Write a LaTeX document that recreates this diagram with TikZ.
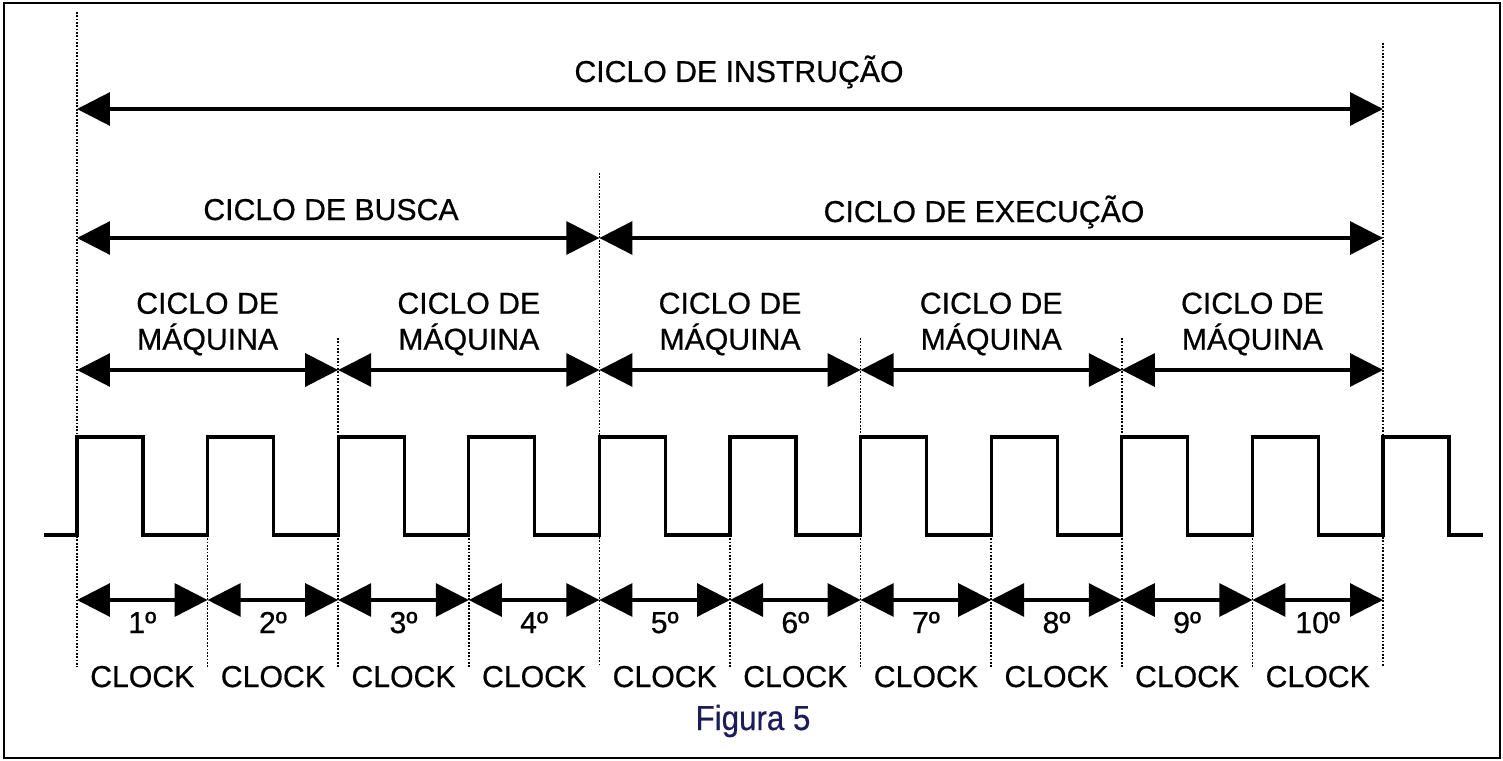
\documentclass[tikz,border=0pt]{standalone}
\usepackage{fontspec}
\setmainfont{Liberation Sans}[FakeBold=0.6]
\newfontfamily\figfont[FakeStretch=0.9, FakeBold=0.4]{Liberation Sans}
\usetikzlibrary{arrows.meta}
\definecolor{figblue}{RGB}{28,28,88}

\begin{document}
\begin{tikzpicture}[x=0.02cm, y=-0.02cm,
    dim/.style={line width=1.8pt, {Triangle[length=0.66cm, width=0.66cm]}-{Triangle[length=0.66cm, width=0.66cm]}},
    guide/.style={line width=1pt, dash pattern=on 1pt off 0.9pt},
    wave/.style={line width=1.8pt, line join=miter},
    lbl/.style={font=\fontsize{17.2}{20.5}\selectfont, inner sep=0pt}]
    \useasboundingbox (0,0) rectangle (1503,760);
    \draw[line width=1.1pt] (4,3) rectangle (1500,758);

    % clock edges and the rows of arrows
    \foreach \i/\up in {0/12, 1/535, 2/338, 3/535, 4/173, 5/535, 6/338, 7/535, 8/338, 9/535, 10/43} {
        \pgfmathsetmacro\xx{77+130.6*\i}
        \coordinate (top\i) at (\xx,\up);
        \coordinate (bot\i) at (\xx,667);
        \coordinate (t\i) at (\xx,109);
        \coordinate (f\i) at (\xx,238);
        \coordinate (m\i) at (\xx,370);
        \coordinate (k\i) at (\xx,600);
        \draw[guide] (top\i) -- (bot\i);
    }

    % clock signal
    \draw[wave] (44,535) \foreach \i in {0,...,10} {
        -- ({77+130.6*\i},535) -- ++(0,-98) -- ++(66,0) -- ++(0,98)} -- (1483,535);

    \draw[dim] (t0) -- (t10);
    \draw[dim] (f0) -- (f4);
    \draw[dim] (f4) -- (f10);
    \foreach \a/\b in {0/2, 2/4, 4/6, 6/8, 8/10}
        \draw[dim] (m\a) -- (m\b);
    \foreach \b [remember=\b as \a (initially 0)] in {1,...,10}
        \draw[dim] (k\a) -- (k\b);

    \node[lbl, anchor=base] (instr) at (739,82) {CICLO DE INSTRUÇÃO};
    \node[lbl, anchor=base] (busca) at (331,220) {CICLO DE BUSCA};
    \node[lbl, anchor=base] (exec) at (984,222) {CICLO DE EXECUÇÃO};
    \foreach \a [count=\n] in {0,2,4,6,8}
        \node[lbl, align=center] (maq\n) at ({77+130.6*(\a+1)},324) {CICLO DE\\MÁQUINA};
    \foreach \n in {1,...,10} {
        \node[lbl, anchor=base] (num\n) at ({77+130.6*(\n-0.5)},633) {\n{}º};
        \node[lbl, anchor=base] (clk\n) at ({77+130.6*(\n-0.5)},687) {CLOCK};
    }
    \node[font=\figfont\fontsize{19.8}{22}\selectfont, text=figblue, anchor=base, inner sep=0pt] (fig) at (753,730) {Figura 5};
\end{tikzpicture}
\end{document}
